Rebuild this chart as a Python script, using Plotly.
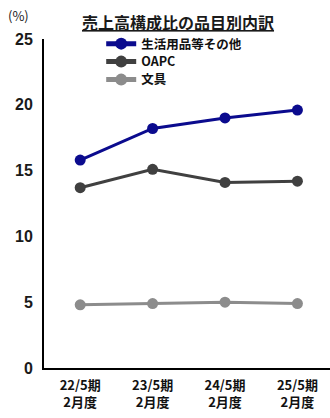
import plotly.graph_objects as go

periods = ["22/5期", "23/5期", "24/5期", "25/5期"]
months = ["2月度", "2月度", "2月度", "2月度"]
daily_goods = [15.8, 18.2, 19.0, 19.6]
oapc = [13.7, 15.1, 14.1, 14.2]
stationery = [4.8, 4.9, 5.0, 4.9]

series = [
    ("生活用品等その他", daily_goods, "#0B0B8E"),
    ("OAPC", oapc, "#404040"),
    ("文具", stationery, "#8C8C8C"),
]

font_family = "Noto Sans CJK JP, Arial, sans-serif"
idx = list(range(len(periods)))
x_range = [-0.5, 3.45]

fig = go.Figure()
legend_ids = ["legend", "legend2", "legend3"]
legend_y = [0.9848, 0.9301, 0.8754]
for (name, vals, color), lid in zip(series, legend_ids):
    fig.add_trace(go.Scatter(
        x=idx, y=vals, name=name, mode="lines+markers",
        line=dict(color=color, width=3),
        marker=dict(color=color, size=11),
        legend=lid,
    ))

legend_style = dict(
    x=0.2, xanchor="left", yanchor="middle",
    font=dict(size=12.5, family=font_family, weight="bold", color="#111"),
    bgcolor="rgba(0,0,0,0)", itemwidth=30, itemsizing="constant",
)
legends = {lid: dict(legend_style, y=ly) for lid, ly in zip(legend_ids, legend_y)}

fig.update_layout(
    width=330, height=418,
    margin=dict(l=44, r=0, t=39, b=50, autoexpand=False),
    paper_bgcolor="white", plot_bgcolor="white",
    font=dict(family=font_family, color="#1a1a1a"),
    showlegend=True,
    **legends,
    xaxis=dict(
        range=x_range, tickmode="array", tickvals=idx, ticktext=periods,
        showline=True, linecolor="black", linewidth=2, automargin=False,
        showgrid=False, zeroline=False, ticks="", ticklabelstandoff=4,
        tickfont=dict(size=13, weight="bold", color="#111"),
    ),
    xaxis2=dict(
        range=x_range, overlaying="x", anchor="y", side="bottom",
        tickmode="array", tickvals=idx, ticktext=months, automargin=False,
        showline=False, showgrid=False, zeroline=False, ticks="",
        ticklabelstandoff=25,
        tickfont=dict(size=13, weight="bold", color="#111"),
    ),
    yaxis=dict(
        range=[0, 25], dtick=5, automargin=False,
        showline=True, linecolor="black", linewidth=2,
        showgrid=False, zeroline=False, ticks="", ticklabelstandoff=6,
        tickfont=dict(size=16, family="Liberation Sans, Arial", weight="bold", color="#1a1a1a"),
    ),
    annotations=[
        dict(text="<u>売上高構成比の品目別内訳</u>", xref="paper", yref="paper",
             x=0.469, y=1.0, yshift=17, xanchor="center", yanchor="middle",
             showarrow=False, font=dict(size=16, weight="bold", family=font_family, color="#1a1a1a")),
        dict(text="(%)", xref="paper", yref="paper",
             x=0, xshift=-26, y=1.0, yshift=24, xanchor="center", yanchor="middle",
             showarrow=False, font=dict(size=13, family=font_family, color="#1a1a1a")),
    ],
)

# invisible trace so the second x axis is drawn
fig.add_trace(go.Scatter(x=idx, y=stationery, xaxis="x2", mode="markers",
                         marker=dict(opacity=0), showlegend=False, hoverinfo="skip"))

fig.write_html("out.html")
